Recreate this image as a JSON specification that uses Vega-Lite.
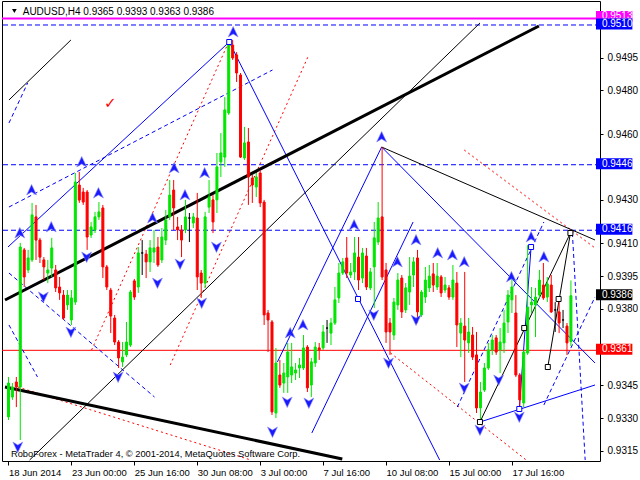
{
"$schema": "https://vega.github.io/schema/vega-lite/v6.json",
"width": 598, "height": 460,
"autosize": "none",
"padding": {"left": 2, "top": 1, "right": 40, "bottom": 19},
"background": "white",
"config": {"view": {"stroke": "#000000", "strokeWidth": 1}, "font": "Liberation Sans"},
"datasets": {
"candles": [
{"i":0,"o":0.93305,"h":0.93488,"l":0.93291,"c":0.93460},
{"i":1,"o":0.93396,"h":0.93460,"l":0.93383,"c":0.93442},
{"i":2,"o":0.93465,"h":0.93488,"l":0.93350,"c":0.93442},
{"i":3,"o":0.93442,"h":0.94102,"l":0.93199,"c":0.94083},
{"i":4,"o":0.94070,"h":0.94079,"l":0.93900,"c":0.93946},
{"i":5,"o":0.93978,"h":0.94070,"l":0.93964,"c":0.94033},
{"i":6,"o":0.94024,"h":0.94285,"l":0.94015,"c":0.94230},
{"i":7,"o":0.94221,"h":0.94276,"l":0.94024,"c":0.94115},
{"i":8,"o":0.94115,"h":0.94125,"l":0.94010,"c":0.94037},
{"i":9,"o":0.94024,"h":0.94037,"l":0.93932,"c":0.93992},
{"i":10,"o":0.93964,"h":0.94024,"l":0.93918,"c":0.93978},
{"i":11,"o":0.93987,"h":0.94125,"l":0.93946,"c":0.94079},
{"i":12,"o":0.93978,"h":0.94001,"l":0.93877,"c":0.93896},
{"i":13,"o":0.93900,"h":0.93946,"l":0.93841,"c":0.93873},
{"i":14,"o":0.93863,"h":0.93886,"l":0.93749,"c":0.93758},
{"i":15,"o":0.93818,"h":0.93886,"l":0.93795,"c":0.93863},
{"i":16,"o":0.93749,"h":0.93886,"l":0.93726,"c":0.93850},
{"i":17,"o":0.93831,"h":0.94422,"l":0.93818,"c":0.94381},
{"i":18,"o":0.94367,"h":0.94427,"l":0.94285,"c":0.94298},
{"i":19,"o":0.94335,"h":0.94354,"l":0.94276,"c":0.94289},
{"i":20,"o":0.94335,"h":0.94344,"l":0.94070,"c":0.94129},
{"i":21,"o":0.94138,"h":0.94198,"l":0.94125,"c":0.94175},
{"i":22,"o":0.94161,"h":0.94244,"l":0.94147,"c":0.94221},
{"i":23,"o":0.94221,"h":0.94289,"l":0.94207,"c":0.94244},
{"i":24,"o":0.94262,"h":0.94276,"l":0.93941,"c":0.93992},
{"i":25,"o":0.93992,"h":0.94001,"l":0.93886,"c":0.93900},
{"i":26,"o":0.93886,"h":0.93896,"l":0.93689,"c":0.93767},
{"i":27,"o":0.93758,"h":0.93772,"l":0.93634,"c":0.93648},
{"i":28,"o":0.93648,"h":0.93657,"l":0.93529,"c":0.93575},
{"i":29,"o":0.93557,"h":0.93648,"l":0.93534,"c":0.93579},
{"i":30,"o":0.93589,"h":0.93740,"l":0.93579,"c":0.93648},
{"i":31,"o":0.93634,"h":0.93886,"l":0.93625,"c":0.93877},
{"i":32,"o":0.93928,"h":0.93937,"l":0.93841,"c":0.93854},
{"i":33,"o":0.93900,"h":0.94083,"l":0.93873,"c":0.94056},
{"i":34,"o":0.94056,"h":0.94115,"l":0.93955,"c":0.94056},
{"i":35,"o":0.94051,"h":0.94070,"l":0.93941,"c":0.94015},
{"i":36,"o":0.94015,"h":0.94115,"l":0.93969,"c":0.94079},
{"i":37,"o":0.94060,"h":0.94161,"l":0.94010,"c":0.94079},
{"i":38,"o":0.94083,"h":0.94129,"l":0.93992,"c":0.94001},
{"i":39,"o":0.94024,"h":0.94170,"l":0.94010,"c":0.94129},
{"i":40,"o":0.94115,"h":0.94253,"l":0.94092,"c":0.94207},
{"i":41,"o":0.94221,"h":0.94390,"l":0.94207,"c":0.94321},
{"i":42,"o":0.94344,"h":0.94390,"l":0.94161,"c":0.94262},
{"i":43,"o":0.94175,"h":0.94221,"l":0.94115,"c":0.94161},
{"i":44,"o":0.94161,"h":0.94184,"l":0.94037,"c":0.94115},
{"i":45,"o":0.94161,"h":0.94299,"l":0.94147,"c":0.94221},
{"i":46,"o":0.94216,"h":0.94239,"l":0.94106,"c":0.94216},
{"i":47,"o":0.94193,"h":0.94239,"l":0.94170,"c":0.94221},
{"i":48,"o":0.94216,"h":0.94331,"l":0.93886,"c":0.93946},
{"i":49,"o":0.93964,"h":0.93978,"l":0.93850,"c":0.93918},
{"i":50,"o":0.93918,"h":0.94244,"l":0.93896,"c":0.94221},
{"i":51,"o":0.94266,"h":0.94390,"l":0.94239,"c":0.94312},
{"i":52,"o":0.94299,"h":0.94321,"l":0.94147,"c":0.94198},
{"i":53,"o":0.94299,"h":0.94514,"l":0.94239,"c":0.94450},
{"i":54,"o":0.94473,"h":0.94605,"l":0.94404,"c":0.94514},
{"i":55,"o":0.94495,"h":0.94770,"l":0.94450,"c":0.94711},
{"i":56,"o":0.94697,"h":0.95031,"l":0.94688,"c":0.95022},
{"i":57,"o":0.95008,"h":0.95031,"l":0.94940,"c":0.94949},
{"i":58,"o":0.94963,"h":0.94976,"l":0.94839,"c":0.94880},
{"i":59,"o":0.94871,"h":0.94880,"l":0.94491,"c":0.94495},
{"i":60,"o":0.94491,"h":0.94633,"l":0.94482,"c":0.94560},
{"i":61,"o":0.94564,"h":0.94628,"l":0.94276,"c":0.94404},
{"i":62,"o":0.94399,"h":0.94413,"l":0.94285,"c":0.94367},
{"i":63,"o":0.94358,"h":0.94422,"l":0.94312,"c":0.94404},
{"i":64,"o":0.94422,"h":0.94436,"l":0.94266,"c":0.94285},
{"i":65,"o":0.94289,"h":0.94299,"l":0.93726,"c":0.93772},
{"i":66,"o":0.93781,"h":0.93795,"l":0.93602,"c":0.93749},
{"i":67,"o":0.93740,"h":0.93749,"l":0.93314,"c":0.93328},
{"i":68,"o":0.93323,"h":0.93621,"l":0.93300,"c":0.93552},
{"i":69,"o":0.93497,"h":0.93566,"l":0.93438,"c":0.93451},
{"i":70,"o":0.93460,"h":0.93552,"l":0.93415,"c":0.93506},
{"i":71,"o":0.93488,"h":0.93644,"l":0.93415,"c":0.93602},
{"i":72,"o":0.93497,"h":0.93644,"l":0.93460,"c":0.93534},
{"i":73,"o":0.93506,"h":0.93552,"l":0.93474,"c":0.93520},
{"i":74,"o":0.93529,"h":0.93575,"l":0.93483,"c":0.93543},
{"i":75,"o":0.93529,"h":0.93680,"l":0.93520,"c":0.93621},
{"i":76,"o":0.93625,"h":0.93634,"l":0.93419,"c":0.93438},
{"i":77,"o":0.93451,"h":0.93575,"l":0.93396,"c":0.93557},
{"i":78,"o":0.93552,"h":0.93648,"l":0.93534,"c":0.93625},
{"i":79,"o":0.93621,"h":0.93644,"l":0.93566,"c":0.93612},
{"i":80,"o":0.93621,"h":0.93726,"l":0.93612,"c":0.93694},
{"i":81,"o":0.93712,"h":0.93749,"l":0.93644,"c":0.93712},
{"i":82,"o":0.93689,"h":0.93758,"l":0.93634,"c":0.93735},
{"i":83,"o":0.93735,"h":0.93900,"l":0.93726,"c":0.93841},
{"i":84,"o":0.93850,"h":0.94010,"l":0.93827,"c":0.93964},
{"i":85,"o":0.93964,"h":0.94033,"l":0.93955,"c":0.94015},
{"i":86,"o":0.94033,"h":0.94129,"l":0.93941,"c":0.93964},
{"i":87,"o":0.93955,"h":0.94010,"l":0.93941,"c":0.93969},
{"i":88,"o":0.93969,"h":0.94129,"l":0.93932,"c":0.94056},
{"i":89,"o":0.94037,"h":0.94129,"l":0.93886,"c":0.93932},
{"i":90,"o":0.93941,"h":0.94079,"l":0.93918,"c":0.94056},
{"i":91,"o":0.94042,"h":0.94079,"l":0.93886,"c":0.93900},
{"i":92,"o":0.93896,"h":0.93987,"l":0.93886,"c":0.93969},
{"i":93,"o":0.93992,"h":0.94198,"l":0.93804,"c":0.94125},
{"i":94,"o":0.94106,"h":0.94289,"l":0.94092,"c":0.94216},
{"i":95,"o":0.94221,"h":0.94541,"l":0.93932,"c":0.93946},
{"i":96,"o":0.93978,"h":0.94010,"l":0.93644,"c":0.93694},
{"i":97,"o":0.93735,"h":0.93758,"l":0.93589,"c":0.93694},
{"i":98,"o":0.93680,"h":0.93850,"l":0.93657,"c":0.93831},
{"i":99,"o":0.93818,"h":0.93964,"l":0.93795,"c":0.93932},
{"i":100,"o":0.93941,"h":0.93955,"l":0.93758,"c":0.93786},
{"i":101,"o":0.93795,"h":0.93918,"l":0.93781,"c":0.93896},
{"i":102,"o":0.93877,"h":0.94037,"l":0.93818,"c":0.93950},
{"i":103,"o":0.93955,"h":0.94037,"l":0.93900,"c":0.94015},
{"i":104,"o":0.94033,"h":0.94070,"l":0.93735,"c":0.93786},
{"i":105,"o":0.93772,"h":0.93886,"l":0.93763,"c":0.93877},
{"i":106,"o":0.93854,"h":0.93992,"l":0.93827,"c":0.93932},
{"i":107,"o":0.93896,"h":0.94001,"l":0.93877,"c":0.93950},
{"i":108,"o":0.93960,"h":0.94010,"l":0.93877,"c":0.93909},
{"i":109,"o":0.93900,"h":0.94010,"l":0.93886,"c":0.93950},
{"i":110,"o":0.93946,"h":0.93955,"l":0.93854,"c":0.93873},
{"i":111,"o":0.93886,"h":0.93946,"l":0.93873,"c":0.93909},
{"i":112,"o":0.93896,"h":0.93909,"l":0.93841,"c":0.93854},
{"i":113,"o":0.93854,"h":0.94001,"l":0.93841,"c":0.93932},
{"i":114,"o":0.93918,"h":0.93969,"l":0.93625,"c":0.93726},
{"i":115,"o":0.93689,"h":0.93758,"l":0.93579,"c":0.93735},
{"i":116,"o":0.93721,"h":0.93969,"l":0.93465,"c":0.93657},
{"i":117,"o":0.93644,"h":0.93758,"l":0.93598,"c":0.93694},
{"i":118,"o":0.93680,"h":0.93717,"l":0.93566,"c":0.93579},
{"i":119,"o":0.93589,"h":0.93694,"l":0.93323,"c":0.93346},
{"i":120,"o":0.93346,"h":0.93465,"l":0.93291,"c":0.93419},
{"i":121,"o":0.93428,"h":0.93552,"l":0.93419,"c":0.93529},
{"i":122,"o":0.93529,"h":0.93644,"l":0.93520,"c":0.93612},
{"i":123,"o":0.93612,"h":0.93680,"l":0.93589,"c":0.93657},
{"i":124,"o":0.93667,"h":0.93680,"l":0.93589,"c":0.93602},
{"i":125,"o":0.93612,"h":0.93712,"l":0.93506,"c":0.93648},
{"i":126,"o":0.93644,"h":0.93795,"l":0.93598,"c":0.93735},
{"i":127,"o":0.93740,"h":0.93886,"l":0.93689,"c":0.93863},
{"i":128,"o":0.93841,"h":0.93941,"l":0.93781,"c":0.93900},
{"i":129,"o":0.93781,"h":0.93863,"l":0.93488,"c":0.93497},
{"i":130,"o":0.93497,"h":0.93506,"l":0.93346,"c":0.93383},
{"i":131,"o":0.93369,"h":0.93612,"l":0.93350,"c":0.93602},
{"i":132,"o":0.93598,"h":0.94092,"l":0.93589,"c":0.93808},
{"i":133,"o":0.93818,"h":0.93900,"l":0.93781,"c":0.93831},
{"i":134,"o":0.93818,"h":0.93896,"l":0.93671,"c":0.93854},
{"i":135,"o":0.93863,"h":0.93978,"l":0.93850,"c":0.93932},
{"i":136,"o":0.93909,"h":0.94010,"l":0.93841,"c":0.93850},
{"i":137,"o":0.93854,"h":0.93946,"l":0.93831,"c":0.93914},
{"i":138,"o":0.93909,"h":0.93955,"l":0.93781,"c":0.93786},
{"i":139,"o":0.93795,"h":0.93831,"l":0.93694,"c":0.93795},
{"i":140,"o":0.93786,"h":0.93831,"l":0.93689,"c":0.93735},
{"i":141,"o":0.93749,"h":0.93795,"l":0.93712,"c":0.93749},
{"i":142,"o":0.93721,"h":0.93735,"l":0.93589,"c":0.93644},
{"i":143,"o":0.93650,"h":0.93930,"l":0.93630,"c":0.93860}
],
"lines": [
{"id":"tka","s":"tk","i":-0.875,"p":0.938405},{"id":"tka","s":"tk","i":134.875,"p":0.950954},
{"id":"tkb","s":"tk","i":-0.875,"p":0.93442},{"id":"tkb","s":"tk","i":84.875,"p":0.931123},
{"id":"tn1","s":"tn","i":0.125,"p":0.947565},{"id":"tn1","s":"tn","i":15.875,"p":0.950313},
{"id":"tn2","s":"tn","i":5.375,"p":0.931077},{"id":"tn2","s":"tn","i":119.875,"p":0.951092},
{"id":"tn3","s":"tn","i":94.875,"p":0.945412},{"id":"tn3","s":"tn","i":149.125,"p":0.941153},
{"id":"tn4","s":"tn","i":119.875,"p":0.932817},{"id":"tn4","s":"tn","i":142.875,"p":0.941474},
{"id":"tn5","s":"tn","i":137.125,"p":0.935336},{"id":"tn5","s":"tn","i":142.875,"p":0.941474},
{"id":"bs1","s":"bl","i":-0.125,"p":0.940832},{"id":"bs1","s":"bl","i":56.125,"p":0.950221},
{"id":"bs2","s":"bl","i":56.125,"p":0.950221},{"id":"bs2","s":"bl","i":109.625,"p":0.931077},
{"id":"bse","s":"bl","i":68.375,"p":0.935565},{"id":"bse","s":"bl","i":94.875,"p":0.945412},
{"id":"bsc","s":"bl","i":77.125,"p":0.932314},{"id":"bsc","s":"bl","i":102.875,"p":0.941977},
{"id":"bsd","s":"bl","i":94.875,"p":0.945412},{"id":"bsd","s":"bl","i":149.125,"p":0.93552},
{"id":"bsf","s":"bl","i":119.875,"p":0.932817},{"id":"bsf","s":"bl","i":149.125,"p":0.934512},
{"id":"bsg","s":"bl","i":129.875,"p":0.933413},{"id":"bsg","s":"bl","i":132.875,"p":0.940832},
{"id":"bd1","s":"bd","i":0.125,"p":0.942664},{"id":"bd1","s":"bd","i":67.125,"p":0.948939},
{"id":"bd2","s":"bd","i":0.125,"p":0.939642},{"id":"bd2","s":"bd","i":37.125,"p":0.933962},
{"id":"bd3","s":"bd","i":0.125,"p":0.93726},{"id":"bd3","s":"bd","i":7.375,"p":0.934879},
{"id":"bd4","s":"bd","i":0.125,"p":0.946512},{"id":"bd4","s":"bd","i":4.875,"p":0.948344},
{"id":"bd5","s":"bd","i":114.125,"p":0.933504},{"id":"bd5","s":"bd","i":136.125,"p":0.941977},
{"id":"bd6","s":"bd","i":136.125,"p":0.933596},{"id":"bd6","s":"bd","i":149.125,"p":0.938542},
{"id":"bd7","s":"bd","i":143.375,"p":0.941474},{"id":"bd7","s":"bd","i":146.625,"p":0.931077},
{"id":"rd1","s":"rd","i":21.125,"p":0.936115},{"id":"rd1","s":"rd","i":55.875,"p":0.950176},
{"id":"rd2","s":"rd","i":41.125,"p":0.935428},{"id":"rd2","s":"rd","i":76.125,"p":0.949534},
{"id":"rd5","s":"rd","i":2.375,"p":0.93442},{"id":"rd5","s":"rd","i":61.625,"p":0.931077},
{"id":"rd6","s":"rd","i":115.875,"p":0.945275},{"id":"rd6","s":"rd","i":149.125,"p":0.940787},
{"id":"rd7","s":"rd","i":97.125,"p":0.935978},{"id":"rd7","s":"rd","i":131.625,"p":0.931077}
],
"levels": [
{"p":0.9513,"k":"m"},{"p":0.9510,"k":"b"},{"p":0.9446,"k":"b"},{"p":0.9416,"k":"b"},{"p":0.9386,"k":"k"},{"p":0.9361,"k":"r"}
],
"arrows": [
{"i":2.875,"p":0.941474,"d":"u"},{"i":5.875,"p":0.943443,"d":"u"},{"i":10.875,"p":0.941748,"d":"u"},
{"i":18.625,"p":0.944725,"d":"u"},{"i":22.875,"p":0.943306,"d":"u"},{"i":36.625,"p":0.942161,"d":"u"},
{"i":42.125,"p":0.944451,"d":"u"},{"i":44.875,"p":0.943214,"d":"u"},{"i":49.875,"p":0.944222,"d":"u"},
{"i":57.125,"p":0.950679,"d":"u"},{"i":71.625,"p":0.936894,"d":"u"},{"i":74.875,"p":0.93726,"d":"u"},
{"i":87.875,"p":0.94184,"d":"u"},{"i":94.875,"p":0.94587,"d":"u"},{"i":98.875,"p":0.940145,"d":"u"},
{"i":103.625,"p":0.941153,"d":"u"},{"i":109.125,"p":0.940558,"d":"u"},{"i":112.875,"p":0.940466,"d":"u"},
{"i":115.875,"p":0.940145,"d":"u"},{"i":127.875,"p":0.939458,"d":"u"},{"i":132.875,"p":0.94129,"d":"u"},
{"i":136.125,"p":0.940374,"d":"u"},
{"i":2.375,"p":0.931672,"d":"d"},{"i":8.875,"p":0.938542,"d":"d"},{"i":15.875,"p":0.936939,"d":"d"},
{"i":19.875,"p":0.940374,"d":"d"},{"i":27.875,"p":0.934878,"d":"d"},{"i":37.875,"p":0.939184,"d":"d"},
{"i":43.625,"p":0.940054,"d":"d"},{"i":49.125,"p":0.938268,"d":"d"},{"i":52.875,"p":0.940832,"d":"d"},
{"i":67.125,"p":0.932359,"d":"d"},{"i":70.875,"p":0.933733,"d":"d"},{"i":76.375,"p":0.933688,"d":"d"},
{"i":92.875,"p":0.937718,"d":"d"},{"i":96.625,"p":0.93552,"d":"d"},{"i":103.625,"p":0.937489,"d":"d"},
{"i":115.875,"p":0.934375,"d":"d"},{"i":119.875,"p":0.932451,"d":"d"},{"i":124.625,"p":0.934741,"d":"d"},
{"i":129.875,"p":0.933046,"d":"d"}
],
"squares": [
{"i":56.125,"p":0.950221,"k":"b"},{"i":88.875,"p":0.938451,"k":"b"},{"i":119.875,"p":0.932817,"k":"k"},
{"i":129.875,"p":0.933413,"k":"b"},{"i":131.125,"p":0.937123,"k":"k"},{"i":132.875,"p":0.940832,"k":"b"},
{"i":137.125,"p":0.935336,"k":"k"},{"i":139.875,"p":0.938451,"k":"k"},{"i":142.875,"p":0.941474,"k":"k"}
]
},
"layer": [
{
"data": {"name": "levels"},
"transform": [{"filter": "datum.k == 'b'"}],
"mark": {"type": "rule", "clip": true, "color": "#0000ff", "strokeWidth": 1, "strokeDash": [5,3]},
"encoding": {
"y": {"field": "p", "type": "quantitative", "scale": {"domain": [0.931031, 0.952099], "zero": false, "nice": false}, "title": null}
}
},
{
"data": {"name": "levels"},
"transform": [{"filter": "datum.k == 'r'"}],
"mark": {"type": "rule", "clip": true, "color": "#ff0000", "strokeWidth": 1},
"encoding": {"y": {"field": "p", "type": "quantitative", "title": null}}
},
{
"data": {"name": "levels"},
"transform": [{"filter": "datum.k == 'm'"}],
"mark": {"type": "rule", "clip": true, "color": "#ff00ff", "strokeWidth": 2},
"encoding": {"y": {"field": "p", "type": "quantitative", "title": null}}
},
{
"data": {"name": "lines"},
"transform": [{"filter": "datum.s == 'rd'"}],
"mark": {"type": "line", "clip": true, "color": "#ff0000", "strokeWidth": 1, "strokeDash": [2,3]},
"encoding": {
"x": {"field": "i", "type": "quantitative", "scale": {"domain": [-0.375, 149.125], "zero": false, "nice": false}, "title": null},
"y": {"field": "p", "type": "quantitative", "title": null},
"detail": {"field": "id"}
}
},
{
"data": {"name": "lines"},
"transform": [{"filter": "datum.s == 'bd'"}],
"mark": {"type": "line", "clip": true, "color": "#0000ff", "strokeWidth": 1, "strokeDash": [4,3]},
"encoding": {
"x": {"field": "i", "type": "quantitative", "title": null},
"y": {"field": "p", "type": "quantitative", "title": null},
"detail": {"field": "id"}
}
},
{
"data": {"name": "lines"},
"transform": [{"filter": "datum.s == 'bl'"}],
"mark": {"type": "line", "clip": true, "color": "#0000ff", "strokeWidth": 1},
"encoding": {
"x": {"field": "i", "type": "quantitative", "title": null},
"y": {"field": "p", "type": "quantitative", "title": null},
"detail": {"field": "id"}
}
},
{
"data": {"name": "lines"},
"transform": [{"filter": "datum.s == 'tn'"}],
"mark": {"type": "line", "clip": true, "color": "#000000", "strokeWidth": 1},
"encoding": {
"x": {"field": "i", "type": "quantitative", "title": null},
"y": {"field": "p", "type": "quantitative", "title": null},
"detail": {"field": "id"}
}
},
{
"data": {"name": "lines"},
"transform": [{"filter": "datum.s == 'tk'"}],
"mark": {"type": "line", "clip": true, "color": "#000000", "strokeWidth": 3},
"encoding": {
"x": {"field": "i", "type": "quantitative", "title": null},
"y": {"field": "p", "type": "quantitative", "title": null},
"detail": {"field": "id"}
}
},
{
"data": {"name": "candles"},
"mark": {"type": "rule", "strokeWidth": 1},
"encoding": {
"x": {"field": "i", "type": "quantitative", "title": null,
"axis": {"values": [0,16,32,48,64,80,96,112,128],
"labelExpr": "['18 Jun 2014','23 Jun 00:00','25 Jun 16:00','30 Jun 08:00','3 Jul 00:00','7 Jul 16:00','10 Jul 08:00','15 Jul 00:00','17 Jul 16:00'][round(datum.value/16)]",
"labelAlign": "left", "labelBaseline": "top", "labelPadding": 2, "tickSize": 4, "tickColor": "#000000", "labelColor": "#000000",
"labelFont": "Liberation Sans", "labelFontSize": 9.5, "domain": false, "grid": false, "labelFlush": false, "labelOverlap": false, "labelBound": false}},
"y": {"field": "l", "type": "quantitative", "title": null,
"axis": {"orient": "right", "values": [0.9315,0.933,0.9345,0.938,0.9395,0.941,0.943,0.946,0.948,0.9495], "format": ".4f",
"labelAlign": "left", "labelBaseline": "middle", "labelPadding": 4, "tickSize": 3, "tickColor": "#000000", "labelColor": "#000000",
"labelFont": "Liberation Sans", "labelFontSize": 10, "domain": false, "grid": false, "labelOverlap": false, "labelBound": false}},
"y2": {"field": "h"},
"color": {"condition": [{"test": "datum.c - datum.o > 0.000005", "value": "#00e600"}, {"test": "datum.o - datum.c > 0.000005", "value": "#ff0000"}], "value": "#000000"}
}
},
{
"data": {"name": "candles"},
"mark": {"type": "bar", "size": 2, "strokeWidth": 1},
"encoding": {
"x": {"field": "i", "type": "quantitative", "title": null},
"y": {"field": "o", "type": "quantitative", "title": null},
"y2": {"field": "c"},
"fill": {"condition": [{"test": "datum.c - datum.o > 0.000005", "value": "#00e600"}, {"test": "datum.o - datum.c > 0.000005", "value": "#ff0000"}], "value": "#000000"},
"stroke": {"condition": [{"test": "datum.c - datum.o > 0.000005", "value": "#00e600"}, {"test": "datum.o - datum.c > 0.000005", "value": "#ff0000"}], "value": "#000000"}
}
},
{
"data": {"name": "squares"},
"mark": {"type": "point", "shape": "square", "size": 25, "filled": false, "strokeWidth": 1, "fill": "#ffffff", "fillOpacity": 1, "opacity": 1},
"encoding": {
"x": {"field": "i", "type": "quantitative", "title": null},
"y": {"field": "p", "type": "quantitative", "title": null},
"stroke": {"field": "k", "type": "nominal", "scale": {"domain": ["b","k"], "range": ["#0000ff","#000000"]}, "legend": null}
}
},
{
"data": {"name": "arrows"},
"mark": {"type": "point", "filled": true, "size": 121, "opacity": 1, "fill": "#1a1aff", "stroke": "#8c8cff", "strokeWidth": 0.6},
"encoding": {
"x": {"field": "i", "type": "quantitative", "title": null},
"y": {"field": "p", "type": "quantitative", "title": null},
"shape": {"field": "d", "type": "nominal", "scale": {"domain": ["u","d"], "range": ["M0,-1L0.9,0.9L0,0.35L-0.9,0.9Z", "M0,1L0.9,-0.9L0,-0.35L-0.9,-0.9Z"]}, "legend": null}
}
},
{
"data": {"values": [{"t": "✓"}]},
"mark": {"type": "text", "font": "DejaVu Sans", "fontSize": 15, "color": "#ff0000", "align": "center", "baseline": "middle"},
"encoding": {
"x": {"datum": 25.875, "type": "quantitative"},
"y": {"datum": 0.947428, "type": "quantitative"},
"text": {"field": "t"}
}
},
{
"data": {"values": [{"t": "AUDUSD,H4  0.9365 0.9393 0.9363 0.9386"}]},
"mark": {"type": "text", "font": "Liberation Sans", "fontSize": 10, "color": "#000000", "align": "left", "baseline": "alphabetic"},
"encoding": {
"x": {"datum": 3.625, "type": "quantitative"},
"y": {"datum": 0.951458, "type": "quantitative"},
"text": {"field": "t"}
}
},
{
"data": {"values": [{"t": "▼"}]},
"mark": {"type": "point", "shape": "triangle-down", "size": 22, "filled": true, "color": "#000000", "opacity": 1},
"encoding": {
"x": {"datum": 1.5, "type": "quantitative"},
"y": {"datum": 0.951641, "type": "quantitative"}
}
},
{
"data": {"values": [{"t": "RoboForex - MetaTrader 4, © 2001-2014, MetaQuotes Software Corp."}]},
"mark": {"type": "text", "font": "Liberation Sans", "fontSize": 9.3, "color": "#000000", "align": "left", "baseline": "alphabetic"},
"encoding": {
"x": {"datum": 0.625, "type": "quantitative"},
"y": {"datum": 0.931214, "type": "quantitative"},
"text": {"field": "t"}
}
},
{
"data": {"name": "levels"},
"transform": [{"filter": "datum.k == 'm'"}],
"layer": [
{"mark": {"type": "rule", "strokeWidth": 11, "strokeCap": "butt", "yOffset": -2, "color": "#ff00ff"},
"encoding": {"x": {"datum": 149.375, "type": "quantitative"}, "x2": {"datum": 158.625}, "y": {"field": "p", "type": "quantitative"}}},
{"mark": {"type": "text", "font": "Liberation Sans", "fontSize": 10, "align": "left", "baseline": "middle", "color": "#ffffff", "yOffset": -2},
"encoding": {"x": {"datum": 150.875, "type": "quantitative"}, "y": {"field": "p", "type": "quantitative"}, "text": {"field": "p", "format": ".4f"}}}
]
},
{
"data": {"name": "levels"},
"transform": [{"filter": "datum.k != 'm'"}],
"layer": [
{"mark": {"type": "rule", "strokeWidth": 11, "strokeCap": "butt", "yOffset": -1},
"encoding": {"x": {"datum": 149.375, "type": "quantitative"}, "x2": {"datum": 158.625}, "y": {"field": "p", "type": "quantitative"},
"color": {"field": "k", "type": "nominal", "scale": {"domain": ["b","r","k"], "range": ["#0000ff","#ff0000","#000000"]}, "legend": null}}},
{"mark": {"type": "text", "font": "Liberation Sans", "fontSize": 10, "align": "left", "baseline": "middle", "color": "#ffffff", "yOffset": -1},
"encoding": {"x": {"datum": 150.875, "type": "quantitative"}, "y": {"field": "p", "type": "quantitative"}, "text": {"field": "p", "format": ".4f"}}}
]
}
],
"resolve": {"scale": {"color": "independent", "stroke": "independent"}}
}
